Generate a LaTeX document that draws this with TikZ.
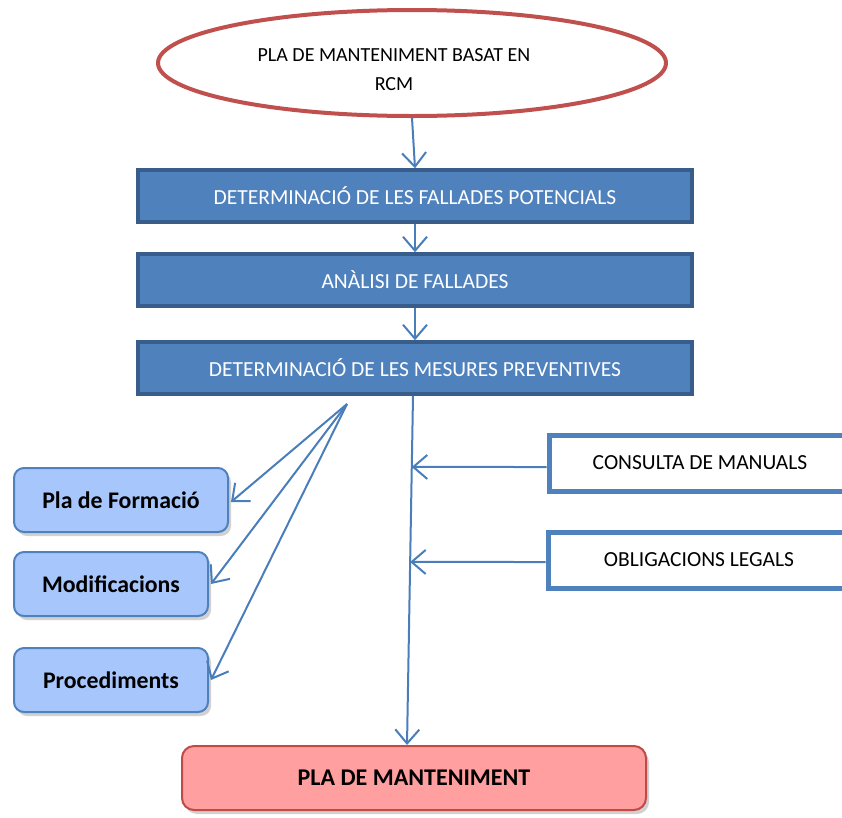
\documentclass[tikz,border=0pt]{standalone}
\usepackage{fontspec}
\setmainfont{Carlito}
\usetikzlibrary{arrows.meta,shapes.geometric,shadows,calc}

\definecolor{ellred}{HTML}{C0504D}
\definecolor{stepfill}{HTML}{4F81BD}
\definecolor{stepline}{HTML}{385D8A}
\definecolor{linkblue}{HTML}{4A7EBB}
\definecolor{sidefill}{HTML}{A6C6FC}
\definecolor{sideline}{HTML}{4F81BD}
\definecolor{endfill}{HTML}{FF9F9F}
\definecolor{endline}{HTML}{BE4B48}

\tikzset{
  startoval/.style={ellipse, draw=ellred, line width=4pt, fill=white,
    minimum width=508pt, minimum height=106pt},
  ovaltext/.style={align=center, font=\fontsize{20}{29}\selectfont},
  stepbox/.style={rectangle, draw=stepline, line width=3.5pt, fill=stepfill,
    minimum width=554pt, minimum height=52pt, text=white,
    font=\fontsize{21.5}{25}\selectfont},
  sidebox/.style={rectangle, rounded corners=10pt, draw=sideline, line width=2pt,
    fill=sidefill, minimum height=64pt, font=\bfseries\fontsize{23.8}{28}\selectfont,
    drop shadow={shadow xshift=3pt, shadow yshift=-4pt, fill=gray!60, opacity=0.6}},
  inputbox/.style={rectangle, draw=sideline, line width=5pt, fill=white,
    minimum width=302pt, minimum height=56pt, font=\fontsize{21.5}{25}\selectfont},
  endbox/.style={rectangle, rounded corners=12pt, draw=endline, line width=2pt,
    fill=endfill, minimum width=464pt, minimum height=64pt,
    font=\bfseries\fontsize{24}{28}\selectfont,
    drop shadow={shadow xshift=3pt, shadow yshift=-4pt, fill=gray!60, opacity=0.6}},
  link/.style={draw=linkblue, line width=2pt,
    -{Straight Barb[length=14pt,width=24pt,line width=2pt]}},
}

\begin{document}
\begin{tikzpicture}[x=1pt,y=-1pt]
\useasboundingbox (0,0) rectangle (842,817);

% main sequence
\node[startoval] (ell) at (412,63) {};
\node[ovaltext] (elltext) at ([xshift=-18pt,yshift=-7pt]ell.center) {PLA DE MANTENIMENT BASAT EN\\RCM};
\node[stepbox] (b1) at (415,196) {DETERMINACIÓ DE LES FALLADES POTENCIALS};
\node[stepbox] (b2) at (415,280) {ANÀLISI DE FALLADES};
\node[stepbox] (b3) at (415,368) {DETERMINACIÓ DE LES MESURES PREVENTIVES};

% preventive measures on the left
\node[sidebox, minimum width=214pt] (pf) at (121,500) {Pla de Formació};
\node[sidebox, minimum width=194pt] (md) at (111,584) {Modificacions};
\node[sidebox, minimum width=194pt] (pr) at (111,680) {Procediments};

% inputs on the right
\node[inputbox] (cm) at (700,463) {CONSULTA DE MANUALS};
\node[inputbox] (ol) at (699,560) {OBLIGACIONS LEGALS};

% final plan
\node[endbox] (pm) at (414,778) {PLA DE MANTENIMENT};

% connectors
\draw[link] (ell.south) -- (b1.north);
\draw[link] (b1.south) -- (b2.north);
\draw[link] (b2.south) -- (b3.north);

\coordinate (mtop) at ([xshift=-2pt]b3.south);
\coordinate (mbot) at ([xshift=-7pt]pm.north);
\draw[link] (mtop) -- (mbot);

% horizontal inputs meeting the main line
\coordinate (cmin) at ([yshift=-4pt]cm.west);
\coordinate (olin) at ([yshift=-2pt]ol.west);
\draw[link] (cmin) -- (intersection of mtop--mbot and cmin--{[xshift=-10pt]cmin});
\draw[link] (olin) -- (intersection of mtop--mbot and olin--{[xshift=-10pt]olin});

\coordinate (fan) at (347,404);
\draw[link] (fan) -- ([xshift=2pt,yshift=-2pt]pf.east);
\draw[link] (fan) -- ([xshift=2pt]md.east);
\draw[link] (fan) -- ([xshift=2pt]pr.east);
\end{tikzpicture}
\end{document}
